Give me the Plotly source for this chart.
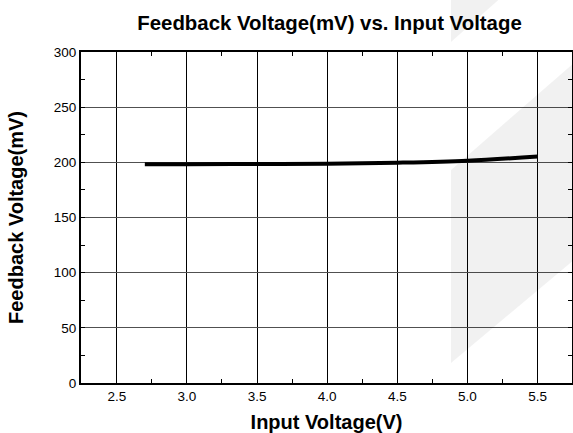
import plotly.graph_objects as go

# Data
input_voltage = [2.7, 3.0, 3.5, 4.0, 4.5, 5.0, 5.5]
feedback_mv = [198.2, 198.2, 198.5, 198.8, 199.7, 201.5, 205.3]

x_ticks = [2.5, 3.0, 3.5, 4.0, 4.5, 5.0, 5.5]
x_tick_text = ["2.5", "3.0", "3.5", "4.0", "4.5", "5.0", "5.5"]
y_ticks = [0, 50, 100, 150, 200, 250, 300]

W, H = 573, 433
L, R, T, B = 81, 1, 52, 50
pw, ph = W - L - R, H - T - B


def px(x):
    return (x - L) / pw


def py(y):
    return (H - B - y) / ph


fig = go.Figure()
fig.add_trace(go.Scatter(
    x=input_voltage, y=feedback_mv, mode="lines",
    line=dict(color="black", width=4, shape="spline"),
    showlegend=False, hoverinfo="x+y",
))

wm = "rgba(0,0,0,0.055)"
shapes = [
    dict(type="path", xref="paper", yref="paper", layer="above",
         path=f"M {px(451)},{py(-5)} L {px(504)},{py(-5)} L {px(451)},{py(42)} Z",
         fillcolor=wm, line=dict(width=0)),
    dict(type="path", xref="paper", yref="paper", layer="above",
         path=(f"M {px(451)},{py(170)} L {px(575)},{py(62)} L {px(575)},{py(259)} "
               f"L {px(451)},{py(363)} Z"),
         fillcolor=wm, line=dict(width=0)),
]

font = "Arial, Liberation Sans, sans-serif"
fig.update_layout(
    width=W, height=H,
    margin=dict(l=L, r=R, t=T, b=B),
    paper_bgcolor="white", plot_bgcolor="rgba(0,0,0,0)",
    font=dict(family=font, color="black", size=13.5),
    title=dict(text="<b>Feedback Voltage(mV) vs. Input Voltage</b>",
               x=(329.5 - L) / pw, xref="paper", xanchor="center",
               y=1 - 23 / H, yref="container", yanchor="middle",
               font=dict(size=20.4, family=font, color="black")),
    shapes=shapes,
)
fig.update_xaxes(
    range=[2.245, 5.745], tickvals=x_ticks, ticktext=x_tick_text,
    showgrid=True, gridcolor="black", gridwidth=1,
    showline=True, linecolor="black", linewidth=2, mirror="allticks",
    ticks="inside", ticklen=4, tickcolor="black",
    minor=dict(dtick=0.25, ticks="inside", ticklen=4, tickcolor="black", showgrid=False),
    zeroline=False,
    title=dict(text="<b>Input Voltage(V)</b>", font=dict(size=20, family=font), standoff=12),
    automargin=False,
)
fig.update_yaxes(
    range=[0, 300], tickvals=y_ticks,
    showgrid=True, gridcolor="#505050", gridwidth=1,
    showline=True, linecolor="black", linewidth=2, mirror="allticks",
    ticks="inside", ticklen=4, tickcolor="black",
    minor=dict(dtick=25, ticks="inside", ticklen=4, tickcolor="black", showgrid=False),
    zeroline=False,
    title=dict(text="<b>Feedback Voltage(mV)</b>", font=dict(size=20, family=font), standoff=25),
    automargin=False,
)

fig.write_html("out.html", config={"displayModeBar": False},
               post_script="document.body.style.margin='0';")
